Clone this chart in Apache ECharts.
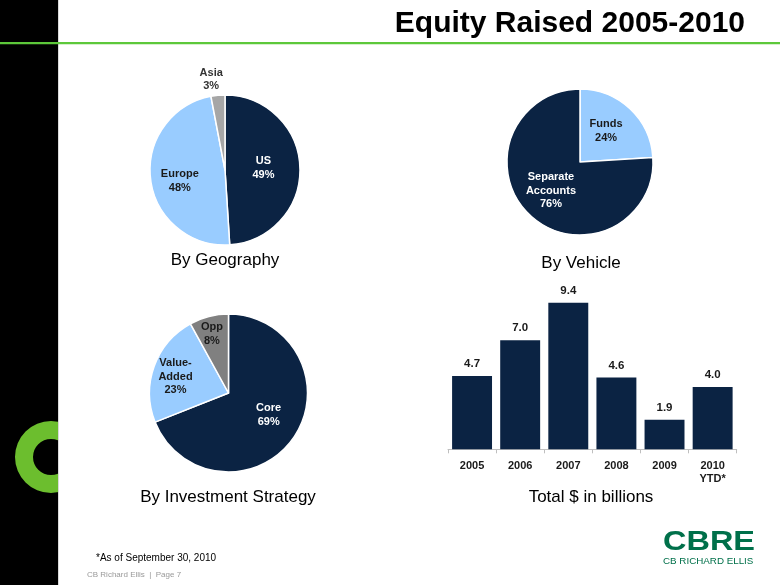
<!DOCTYPE html>
<html>
<head>
<meta charset="utf-8">
<script src="https://cdn.jsdelivr.net/npm/echarts@6/dist/echarts.min.js"></script>
<style>
html,body{margin:0;padding:0;background:#fff;}
#main{width:780px;height:585px;}
</style>
</head>
<body>
<div id="main"></div>
<script>
// ---- data ----
var geoNames = ['US', 'Europe', 'Asia'];
var geoValues = [49, 48, 3];
var vehicleNames = ['Funds', 'Separate\nAccounts'];
var vehicleValues = [24, 76];
var strategyNames = ['Core', 'Value-\nAdded', 'Opp'];
var strategyValues = [69, 23, 8];
var years = ['2005', '2006', '2007', '2008', '2009', '2010\nYTD*'];
var equity = [4.7, 7.0, 9.4, 4.6, 1.9, 4.0];

var NAVY = '#0B2343', LIGHT = '#99CCFF', GRAY1 = '#A6A6A6', GRAY2 = '#808080';
var FONT = 'Liberation Sans, Arial, sans-serif';

function pieData(names, values, colors, labelColors) {
  return names.map(function (n, i) {
    return {
      name: n, value: values[i],
      itemStyle: { color: colors[i] },
      label: { color: labelColors[i] }
    };
  });
}
function offsetLayout(offsets) {
  return function (p) {
    var o = offsets[p.dataIndex] || [0, 0];
    return { dx: o[0], dy: o[1] };
  };
}
function pieSeries(center, radius, data, offsets) {
  return {
    type: 'pie', center: center, radius: radius, startAngle: 90, clockwise: true,
    silent: true, animation: false,
    itemStyle: { borderColor: '#fff', borderWidth: 1.5 },
    label: {
      show: true, position: 'inside', fontFamily: FONT, fontWeight: 'bold', fontSize: 11, lineHeight: 13.5,
      formatter: function (p) { return p.name + '\n' + p.value + '%'; }
    },
    labelLine: { show: false },
    labelLayout: offsetLayout(offsets),
    data: data
  };
}

var chart = echarts.init(document.getElementById('main'), null, { renderer: 'canvas' });
var option = {
  animation: false,
  backgroundColor: '#fff',
  grid: { left: 448, right: 43.3, top: 293.4, bottom: 135.7, containLabel: false },
  xAxis: {
    type: 'category', data: years,
    axisLine: { lineStyle: { color: '#BFBFBF', width: 1 } },
    axisTick: { show: true, length: 4, lineStyle: { color: '#BFBFBF' } },
    axisLabel: { color: '#1a1a1a', fontFamily: FONT, fontWeight: 'bold', fontSize: 11, margin: 10, lineHeight: 13 }
  },
  yAxis: { type: 'value', min: 0, max: 10, show: false, splitLine: { show: false } },
  series: [
    pieSeries([225, 170], 75,
      pieData(geoNames, geoValues, [NAVY, LIGHT, GRAY1], ['#fff', '#1a1a1a', '#333']),
      [[-2, -1], [-5, 6], [-10, -50]]),
    pieSeries([580, 162], 73,
      pieData(vehicleNames, vehicleValues, [LIGHT, NAVY], ['#1a1a1a', '#fff']),
      [[-1, -2], [-2, 0]]),
    pieSeries([228.5, 393], 79,
      pieData(strategyNames, strategyValues, [NAVY, LIGHT, GRAY2], ['#fff', '#1a1a1a', '#1a1a1a']),
      [[5, -2], [-13, -2], [-6, -18]]),
    {
      type: 'bar', data: equity, barCategoryGap: '17%', silent: true,
      itemStyle: { color: NAVY },
      label: {
        show: true, position: 'top', distance: 6, color: '#1a1a1a', fontFamily: FONT, fontWeight: 'bold', fontSize: 11.5,
        formatter: function (p) { return p.value.toFixed(1); }
      }
    }
  ],
  graphic: [
    { type: 'rect', z: -10, shape: { x: 0, y: 0, width: 58, height: 585 }, style: { fill: '#000' } },
    { type: 'ring', z: -9, shape: { cx: 51, cy: 457, r: 36, r0: 18 }, style: { fill: '#6CBE2E' } },
    { type: 'rect', z: -8, shape: { x: 58, y: 410, width: 40, height: 95 }, style: { fill: '#fff' } },
    { type: 'rect', z: -7, shape: { x: 58, y: 0, width: 1, height: 585 }, style: { fill: '#d9d9d9' } },
    { type: 'rect', z: -6, shape: { x: 0, y: 42, width: 780, height: 2.2 }, style: { fill: '#5DC83A' } },
    { type: 'text', style: { x: 745, y: 24, text: 'Equity Raised 2005-2010', fill: '#000', font: 'bold 30px ' + FONT, textAlign: 'right', textVerticalAlign: 'middle' } },
    { type: 'text', style: { x: 225, y: 260, text: 'By Geography', fill: '#000', font: '17px ' + FONT, textAlign: 'center', textVerticalAlign: 'middle' } },
    { type: 'text', style: { x: 581, y: 263, text: 'By Vehicle', fill: '#000', font: '17px ' + FONT, textAlign: 'center', textVerticalAlign: 'middle' } },
    { type: 'text', style: { x: 228, y: 497, text: 'By Investment Strategy', fill: '#000', font: '17px ' + FONT, textAlign: 'center', textVerticalAlign: 'middle' } },
    { type: 'text', style: { x: 591, y: 497, text: 'Total $ in billions', fill: '#000', font: '17px ' + FONT, textAlign: 'center', textVerticalAlign: 'middle' } },
    { type: 'text', style: { x: 96, y: 558, text: '*As of September 30, 2010', fill: '#000', font: '10px ' + FONT, textAlign: 'left', textVerticalAlign: 'middle' } },
    { type: 'text', style: { x: 87, y: 575, text: 'CB Richard Ellis  |  Page 7', fill: '#999', font: '8px ' + FONT, textAlign: 'left', textVerticalAlign: 'middle' } },
    { type: 'text', x: 663, y: 542, scaleX: 1.16, style: { x: 0, y: 0, text: 'CBRE', fill: '#00704A', font: 'bold 28px ' + FONT, textAlign: 'left', textVerticalAlign: 'middle' } },
    { type: 'text', style: { x: 663, y: 561, text: 'CB RICHARD ELLIS', fill: '#00704A', font: '9.8px ' + FONT, textAlign: 'left', textVerticalAlign: 'middle' } }
  ]
};
chart.setOption(option);
</script>
</body>
</html>
